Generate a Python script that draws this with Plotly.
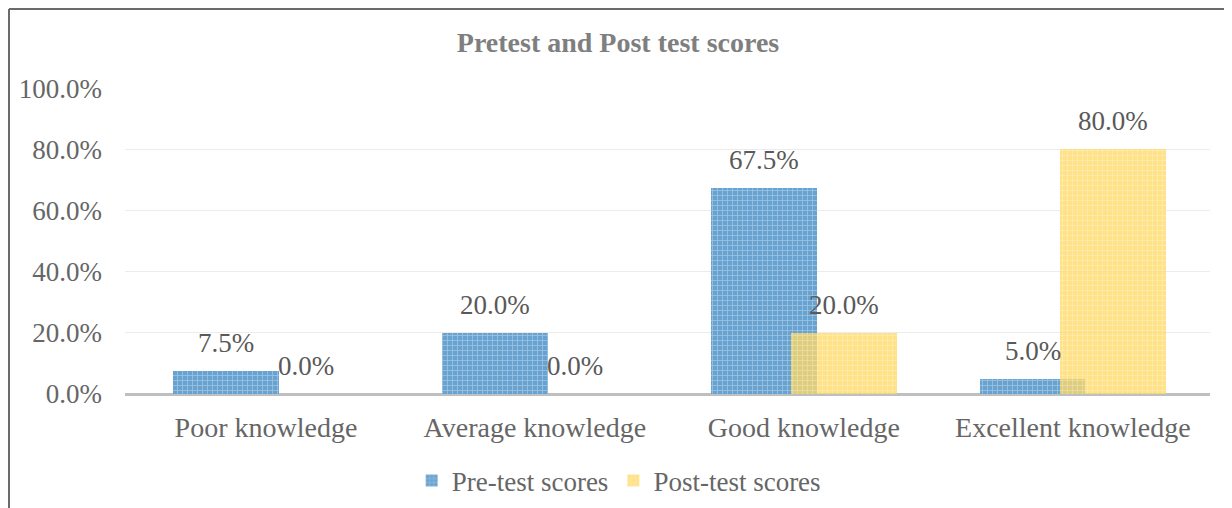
import plotly.graph_objects as go

categories = ["Poor knowledge", "Average knowledge", "Good knowledge", "Excellent knowledge"]
pre_test = [0.075, 0.20, 0.675, 0.05]
post_test = [0.0, 0.0, 0.20, 0.80]
series_names = ["Pre-test scores", "Post-test scores"]
y_ticks = [0.0, 0.2, 0.4, 0.6, 0.8, 1.0]

FONT = "Liberation Serif"
GRAY = "#666666"
LABEL = "#595959"
FS = 27
BAR_W = 0.392
SHIFT = 0.149
xpos = list(range(len(categories)))

W, H = 1224, 500
L, R, T, B = 117, 22, 80, 114
PW, PH = W - L - R, H - T - B

fig = go.Figure()
fig.add_trace(go.Bar(
    x=xpos, y=pre_test, name=series_names[0],
    width=BAR_W, offset=-SHIFT - BAR_W / 2,
    marker=dict(color="#6ba5d2", line=dict(width=0),
                pattern=dict(shape="+", size=5, solidity=0.3,
                             fgcolor="#cfe3f3", bgcolor="#68a2d0")),
))
fig.add_trace(go.Bar(
    x=xpos, y=post_test, name=series_names[1],
    width=BAR_W, offset=SHIFT - BAR_W / 2,
    opacity=0.78,
    marker=dict(color="#ffd966", line=dict(width=0),
                pattern=dict(shape="+", size=5, solidity=0.3,
                             fgcolor="#fff2c8", bgcolor="#ffd966")),
))

for vals, sgn in ((pre_test, -1), (post_test, 1)):
    for i, v in enumerate(vals):
        fig.add_annotation(x=i + sgn * SHIFT, y=v, text=f"{v*100:.1f}%",
                           showarrow=False, yshift=28, yanchor="middle",
                           font=dict(family=FONT, size=FS, color=LABEL))

# outer chart border (left and top)
bx = (1 - L) / PW
by = (H - B - 1) / PH
fig.add_shape(type="line", xref="paper", yref="paper",
              x0=bx, x1=bx, y0=by, y1=-B / PH - 0.05,
              line=dict(color="#6b6b6b", width=2))
fig.add_shape(type="line", xref="paper", yref="paper",
              x0=bx, x1=(W - L) / PW + 0.01, y0=by, y1=by,
              line=dict(color="#6b6b6b", width=2))

fig.update_layout(
    width=W, height=H,
    margin=dict(l=L, r=R, t=T, b=B, autoexpand=False),
    paper_bgcolor="white", plot_bgcolor="white",
    barmode="overlay",
    bargap=0,
    font=dict(family=FONT, size=FS, color=GRAY),
    title=dict(text="<b>Pretest and Post test scores</b>", x=610 / W, xref="container",
               y=1 - 34 / H, yref="container", xanchor="center", yanchor="middle",
               font=dict(family=FONT, size=28, color="#7f7f7f")),
    xaxis=dict(range=[-0.524, 3.51], tickvals=xpos, ticktext=categories,
               showgrid=False, zeroline=False, showline=False, ticks="",
               ticklabelstandoff=14, automargin=False,
               tickfont=dict(family=FONT, size=28, color=GRAY)),
    yaxis=dict(range=[0, 1.0005], tickvals=y_ticks, tickformat=".1%",
               showgrid=True, gridcolor="#ececec", gridwidth=1,
               zeroline=True, zerolinecolor="#bfbfbf", zerolinewidth=3,
               showline=False, ticks="", ticklabelstandoff=22, automargin=False,
               tickfont=dict(family=FONT, size=FS, color=GRAY)),
    legend=dict(orientation="h", x=0.455, xanchor="center", y=-0.284, yanchor="middle",
                font=dict(family=FONT, size=FS, color=GRAY),
                itemwidth=30, tracegroupgap=0, bgcolor="rgba(0,0,0,0)"),
    showlegend=True,
)

fig.write_html("out.html")
